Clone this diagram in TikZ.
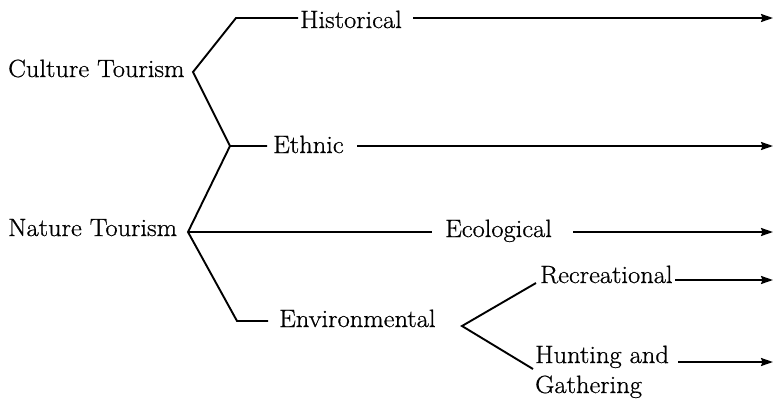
\documentclass[tikz,border=0pt]{standalone}
\usepackage{fontspec}
\setmainfont[FakeStretch=1.06,FakeBold=0.7]{Latin Modern Roman}
\usetikzlibrary{arrows.meta}
\begin{document}
\begin{tikzpicture}[x=1pt,y=-1pt,
  lbl/.style={anchor=base west,inner sep=0pt,font=\fontsize{25}{30}\selectfont},
  ln/.style={line width=1.9pt,line join=miter},
  arr/.style={line width=1.9pt,-{Stealth[length=12pt,width=8pt,inset=1.5pt]}}]
\useasboundingbox (0,0) rectangle (773,400);
% labels
\node[lbl] (ct)  at (8,77)    {Culture Tourism};
\node[lbl] (nt)  at (8,236)   {Nature Tourism};
\node[lbl] (his) at (300,28)  {Historical};
\node[lbl] (eth) at (273,153) {Ethnic};
\node[lbl] (eco) at (445,237) {Ecological};
\node[lbl] (env) at (279,327) {Environmental};
\node[lbl] (rec) at (540,283) {Recreational};
\node[lbl] (hun) at (535,363) {Hunting and};
\node[lbl] (gat) at (535,393) {Gathering};
% junctions
\coordinate (jc) at (193,72);
\coordinate (jh) at (236,18);
\coordinate (je) at (230,146);
\coordinate (jn) at (188,232);
\coordinate (jv) at (237,321);
\coordinate (jr) at (462,326);
\coordinate (rr) at (536,283);
\coordinate (hh) at (533,369);
% ends of arrows
\coordinate (eh) at (773,18);
\coordinate (ee) at (773,146);
\coordinate (ec) at (773,232);
\coordinate (er) at (773,280);
\coordinate (eg) at (773,362);
% tree lines
\draw[ln] ([xshift=-2pt]his.west |- jh) -- (jh) -- (jc) -- (je) -- ([xshift=-6pt]eth.west |- je);
\draw[ln] (je) -- (jn) -- (jv) -- ([xshift=-11pt]env.west |- jv);
\draw[ln] (jn) -- ([xshift=-13pt]eco.west |- jn);
\draw[ln] (rr) -- (jr) -- (hh);
% arrows
\draw[arr] (413,18) -- (eh);
\draw[arr] (357,146) -- (ee);
\draw[arr] (573,232) -- (ec);
\draw[arr] (675,280) -- (er);
\draw[arr] (678,362) -- (eg);
\end{tikzpicture}
\end{document}
